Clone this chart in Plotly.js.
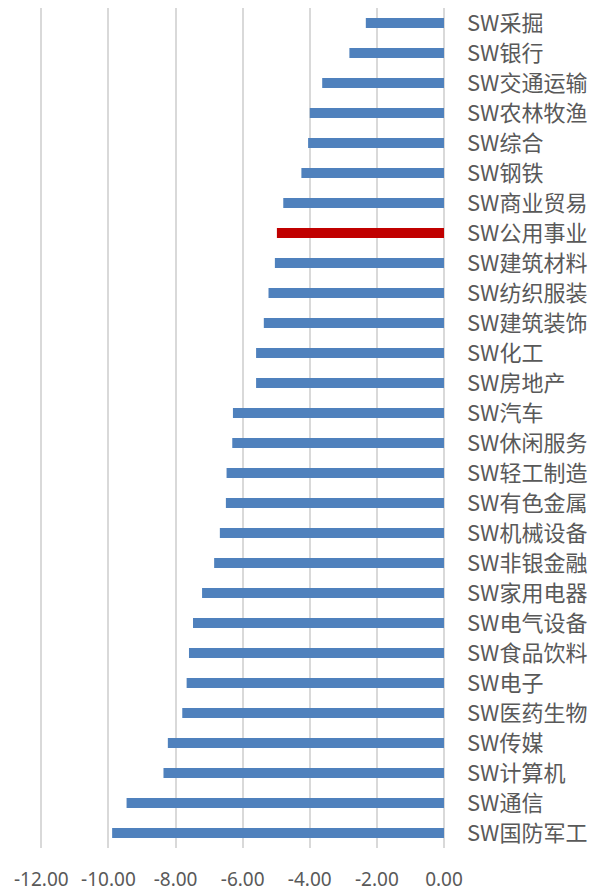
<!DOCTYPE html>
<html>
<head>
<meta charset="utf-8">
<script src="https://cdn.plot.ly/plotly-3.0.1.min.js"></script>
<style>html,body{margin:0;padding:0;background:#fff;}#chart{width:596px;height:893px;}</style>
</head>
<body>
<div id="chart"></div>
<script>
const categories = ["SW采掘","SW银行","SW交通运输","SW农林牧渔","SW综合","SW钢铁","SW商业贸易","SW公用事业","SW建筑材料","SW纺织服装","SW建筑装饰","SW化工","SW房地产","SW汽车","SW休闲服务","SW轻工制造","SW有色金属","SW机械设备","SW非银金融","SW家用电器","SW电气设备","SW食品饮料","SW电子","SW医药生物","SW传媒","SW计算机","SW通信","SW国防军工"];
const values = [-2.33,-2.82,-3.63,-4.00,-4.05,-4.25,-4.79,-4.98,-5.04,-5.23,-5.37,-5.60,-5.60,-6.29,-6.31,-6.48,-6.50,-6.68,-6.85,-7.21,-7.48,-7.60,-7.67,-7.80,-8.23,-8.36,-9.46,-9.89];
const highlight = "SW公用事业";
const tickVals = [-12,-10,-8,-6,-4,-2,0];
const tickText = ["-12.00","-10.00","-8.00","-6.00","-4.00","-2.00","0.00"];

const colors = categories.map(c => c === highlight ? "#c00000" : "#4f81bd");

const trace = {
  type: "bar",
  orientation: "h",
  x: values,
  y: categories,
  marker: {color: colors, line: {width: 0}},
  hoverinfo: "x+y"
};

const layout = {
  width: 596, height: 893,
  margin: {l: 40, r: 152, t: 8, b: 45},
  paper_bgcolor: "#fff", plot_bgcolor: "#fff",
  showlegend: false,
  bargap: 0.667,
  xaxis: {
    range: [-12.04, 0],
    tickvals: tickVals, ticktext: tickText,
    showgrid: true, gridcolor: "#d9d9d9", gridwidth: 2,
    zeroline: true, zerolinecolor: "#d9d9d9", zerolinewidth: 2,
    showline: false, ticks: "",
    ticklabelstandoff: 18,
    tickfont: {family: "Noto Sans, sans-serif", size: 19, color: "#595959"}
  },
  yaxis: {
    type: "category",
    categoryorder: "array", categoryarray: categories,
    autorange: "reversed",
    side: "right",
    showgrid: false, zeroline: false, showline: false, ticks: "",
    ticklabelstandoff: 22,
    tickfont: {family: "Noto Sans CJK SC, sans-serif", size: 22, color: "#595959"}
  }
};

Plotly.newPlot("chart", [trace], layout, {displayModeBar: false, staticPlot: true});
</script>
</body>
</html>
